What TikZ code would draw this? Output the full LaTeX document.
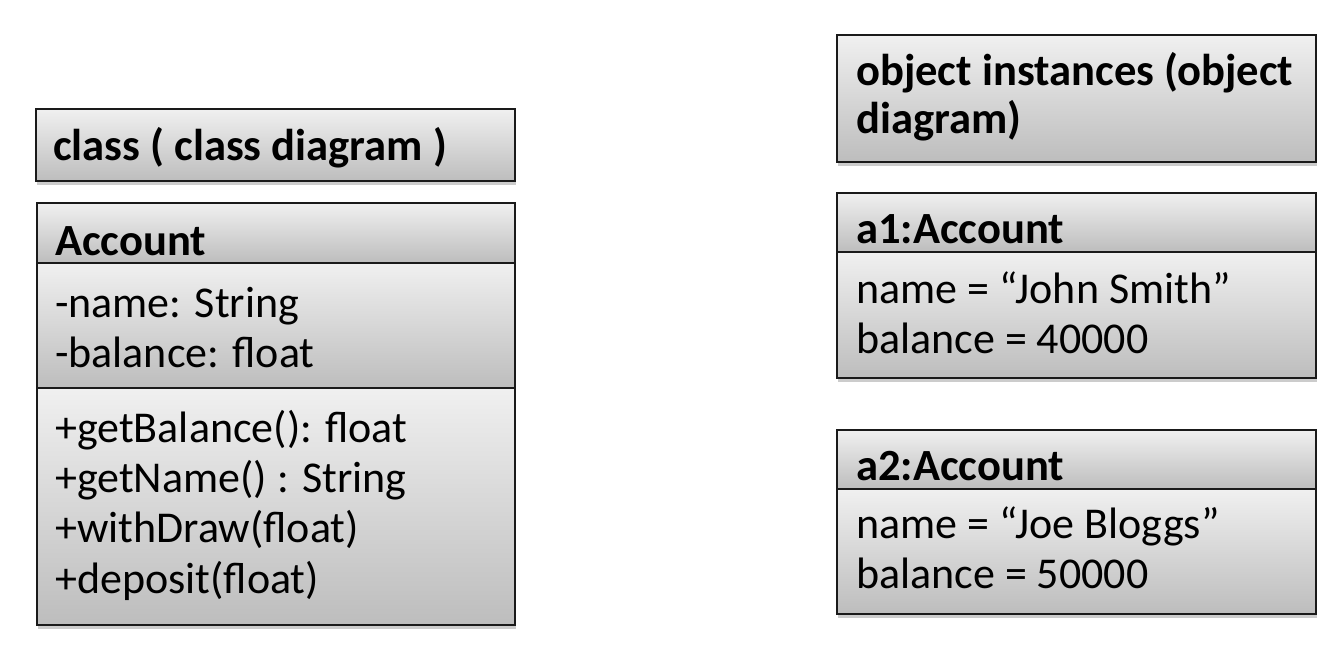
\documentclass[tikz,border=0pt]{standalone}
\usepackage{fontspec}
\setmainfont{Carlito}
\usetikzlibrary{shadows}
\definecolor{gtop}{HTML}{F0F0F0}
\definecolor{gbot}{HTML}{BDBDBD}
\definecolor{edge}{HTML}{1A1A1A}
\begin{document}
\begin{tikzpicture}[x=1pt,y=-1pt,
  comp/.style={draw=edge,line width=2pt,top color=gtop,bottom color=gbot,
    drop shadow={shadow xshift=1pt,shadow yshift=-4pt,opacity=0.2,fill=black}},
  txt/.style={anchor=base west,inner sep=0pt,font=\fontsize{44}{50}\selectfont},
  btxt/.style={anchor=base west,inner sep=0pt,font=\fontsize{44.6}{48}\selectfont\bfseries}]
\useasboundingbox (0,0) rectangle (1327,657);
% left: class heading
\path[comp] (36,109) rectangle (515,181);
\node[btxt] (clsh) at (53,160) {class ( class diagram )};
% Account class
\path[comp] (37,203) rectangle (515,263);
\path[comp] (37,263) rectangle (515,388);
\path[comp] (37,388) rectangle (515,625);
\node[btxt] (accname) at (55,255) {Account};
\node[txt] (attr1) at (55,317) {-name: String};
\node[txt] (attr2) at (55,367) {-balance: float};
\node[txt] (m1) at (55,442) {+getBalance(): float};
\node[txt] (m2) at (55,492) {+getName() : String};
\node[txt] (m3) at (55,542) {+withDraw(float)};
\node[txt] (m4) at (55,593) {+deposit(float)};
% right: object heading
\path[comp] (837,35) rectangle (1316,162);
\node[btxt] (objh1) at (856,85) {object instances (object};
\node[btxt] (objh2) at (856,133) {diagram)};
% a1
\path[comp] (837,193) rectangle (1316,252);
\path[comp] (837,252) rectangle (1316,378);
\node[btxt] (a1) at (856,243) {a1:Account};
\node[txt] (a1n) at (856,303) {name = “John Smith”};
\node[txt] (a1b) at (856,353) {balance = 40000};
% a2
\path[comp] (837,430) rectangle (1316,489);
\path[comp] (837,489) rectangle (1316,614);
\node[btxt] (a2) at (856,480) {a2:Account};
\node[txt] (a2n) at (856,538) {name = “Joe Bloggs”};
\node[txt] (a2b) at (856,588) {balance = 50000};
\end{tikzpicture}
\end{document}
